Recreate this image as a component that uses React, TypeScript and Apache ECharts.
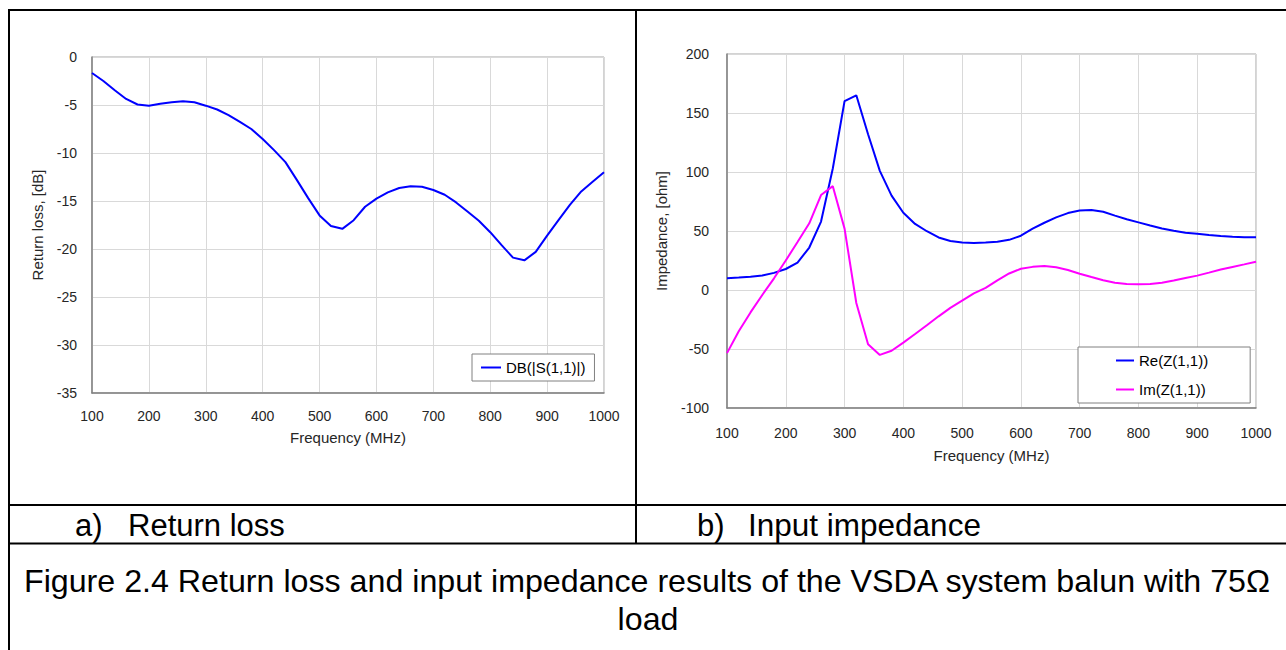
import React, { useEffect, useRef } from "react";
import * as echarts from "echarts";

const freqMHz = [
  100, 120, 140, 160, 180, 200, 220, 240, 260, 280, 300, 320, 340, 360, 380, 400,
  420, 440, 460, 480, 500, 520, 540, 560, 580, 600, 620, 640, 660, 680, 700, 720,
  740, 760, 780, 800, 820, 840, 860, 880, 900, 920, 940, 960, 980, 1000,
];

const returnLossDb = [
  -1.67, -2.5, -3.47, -4.37, -4.95, -5.07, -4.88, -4.72, -4.62, -4.72, -5.07, -5.47,
  -6.05, -6.75, -7.5, -8.54, -9.7, -10.95, -12.8, -14.7, -16.5, -17.6, -17.9, -17.0,
  -15.6, -14.75, -14.1, -13.65, -13.47, -13.52, -13.85, -14.35, -15.15, -16.1, -17.05,
  -18.25, -19.6, -20.9, -21.18, -20.3, -18.6, -17.0, -15.4, -14.0, -13.0, -12.0,
];

const reZ = [
  10, 10.5, 11.2, 12.3, 14.5, 17.8, 23.2, 36, 58, 103, 160, 165, 132, 101, 80, 65.5,
  56, 49.8, 44.5, 41.5, 40.2, 39.8, 40.2, 40.8, 42.5, 46, 52, 57, 61.5, 65.2, 67.3,
  67.8, 66.3, 63, 60, 57.3, 54.6, 52.2, 50.2, 48.6, 47.6, 46.6, 45.7, 45.1, 44.7, 44.6,
];

const imZ = [
  -53.5, -35, -19, -4.2, 9.9, 25, 40.7, 56.5, 80.5, 88, 52, -11, -46, -55, -51.5,
  -44.6, -37.3, -29.9, -22.3, -15.2, -9, -2.8, 1.8, 8.2, 14, 18, 19.6, 20.3, 19.2, 17,
  13.8, 11, 8.3, 6.2, 5, 4.8, 5, 6.2, 8, 10.1, 12.2, 14.7, 17.3, 19.5, 21.7, 24,
];

const seriesNames = ["DB(|S(1,1)|)", "Re(Z(1,1))", "Im(Z(1,1))"];
const axisTitles = {
  freq: "Frequency (MHz)",
  rl: "Return loss, [dB]",
  imp: "Impedance, [ohm]",
};
const captions = {
  aLabel: "a)",
  aText: "Return loss",
  bLabel: "b)",
  bText: "Input impedance",
  figLine1: "Figure 2.4 Return loss and input impedance results of the VSDA system balun with 75Ω",
  figLine2: "load",
};

const FONT = "'Liberation Sans', Arial, Helvetica, sans-serif";

function pairs(ys: number[]) {
  return freqMHz.map((f, i) => [f, ys[i]]);
}

export default function App() {
  const ref = useRef<HTMLDivElement>(null);

  useEffect(() => {
    if (!ref.current) return;
    const chart = echarts.init(ref.current, undefined, { renderer: "svg" });

    const axisLabel = {
      color: "#262626",
      fontSize: 14,
      fontFamily: FONT,
      formatter: (v: number) => String(v),
    };
    const splitLine = { show: true, lineStyle: { color: "#d9d9d9", width: 1 } };
    const axisLine = { show: true, onZero: false, lineStyle: { color: "#808080", width: 1.5 } };
    const nameStyle = { color: "#262626", fontSize: 15, fontFamily: FONT };

    const lineText = (x: number, y: number, text: string, size: number, align = "left") => ({
      type: "text",
      x,
      y,
      style: {
        text,
        fill: "#000",
        fontSize: size,
        fontFamily: FONT,
        align,
        verticalAlign: "middle",
      },
    });
    const border = (x1: number, y1: number, x2: number, y2: number) => ({
      type: "line",
      shape: { x1, y1, x2, y2 },
      style: { stroke: "#000", lineWidth: 2 },
    });

    chart.setOption({
      animation: false,
      backgroundColor: "#fff",
      textStyle: { fontFamily: FONT },
      grid: [
        { left: 92, top: 57, width: 512, height: 336, show: true, borderColor: "#a6a6a6", borderWidth: 1 },
        { left: 727, top: 54, width: 529, height: 354, show: true, borderColor: "#a6a6a6", borderWidth: 1 },
      ],
      xAxis: [
        {
          gridIndex: 0, type: "value", min: 100, max: 1000, interval: 100,
          axisLabel: { ...axisLabel, margin: 16 }, axisTick: { show: false }, axisLine, splitLine,
          name: axisTitles.freq, nameLocation: "middle", nameGap: 37, nameTextStyle: nameStyle,
        },
        {
          gridIndex: 1, type: "value", min: 100, max: 1000, interval: 100,
          axisLabel: { ...axisLabel, margin: 18 }, axisTick: { show: false }, axisLine, splitLine,
          name: axisTitles.freq, nameLocation: "middle", nameGap: 40, nameTextStyle: nameStyle,
        },
      ],
      yAxis: [
        {
          gridIndex: 0, type: "value", min: -35, max: 0, interval: 5,
          axisLabel: { ...axisLabel, margin: 15 }, axisTick: { show: false }, axisLine, splitLine,
          name: axisTitles.rl, nameLocation: "middle", nameGap: 47, nameTextStyle: nameStyle,
        },
        {
          gridIndex: 1, type: "value", min: -100, max: 200, interval: 50,
          axisLabel: { ...axisLabel, margin: 18 }, axisTick: { show: false }, axisLine, splitLine,
          name: axisTitles.imp, nameLocation: "middle", nameGap: 58, nameTextStyle: nameStyle,
        },
      ],
      legend: [
        {
          data: [{ name: seriesNames[0], icon: "rect" }],
          left: 472, top: 354, orient: "vertical",
          padding: [6, 9, 6, 9], itemWidth: 20, itemHeight: 2,
          borderColor: "#808080", borderWidth: 1, backgroundColor: "#fff",
          selectedMode: false,
          textStyle: { fontSize: 15, color: "#000", fontFamily: FONT },
        },
        {
          data: [
            { name: seriesNames[1], icon: "rect" },
            { name: seriesNames[2], icon: "rect" },
          ],
          left: 1078, top: 347, orient: "vertical",
          padding: [6, 42, 6, 38], itemWidth: 18, itemHeight: 2, itemGap: 14,
          borderColor: "#808080", borderWidth: 1, backgroundColor: "#fff",
          selectedMode: false,
          textStyle: { fontSize: 15, color: "#000", fontFamily: FONT },
        },
      ],
      series: [
        {
          name: seriesNames[0], type: "line", xAxisIndex: 0, yAxisIndex: 0,
          data: pairs(returnLossDb), symbol: "none", color: "#0000ff",
          lineStyle: { width: 2, color: "#0000ff" },
        },
        {
          name: seriesNames[1], type: "line", xAxisIndex: 1, yAxisIndex: 1,
          data: pairs(reZ), symbol: "none", color: "#0000ff",
          lineStyle: { width: 2, color: "#0000ff" },
        },
        {
          name: seriesNames[2], type: "line", xAxisIndex: 1, yAxisIndex: 1,
          data: pairs(imZ), symbol: "none", color: "#ff00ff",
          lineStyle: { width: 2, color: "#ff00ff" },
        },
      ],
      graphic: [
        border(8, 10, 1286, 10),
        border(9, 10, 9, 650),
        border(636, 10, 636, 544),
        border(8, 505, 1286, 505),
        border(8, 543.5, 1286, 543.5),
        lineText(75, 525, captions.aLabel, 31),
        lineText(128, 525, captions.aText, 31),
        lineText(697, 525, captions.bLabel, 31),
        lineText(748, 525, captions.bText, 31.5),
        lineText(24, 581, captions.figLine1, 32.2),
        lineText(648, 619, captions.figLine2, 32.2, "center"),
      ],
    });

    return () => chart.dispose();
  }, []);

  return (
    <div
      ref={ref}
      style={{ position: "fixed", left: 0, top: 0, width: 1286, height: 650, background: "#fff" }}
    />
  );
}
